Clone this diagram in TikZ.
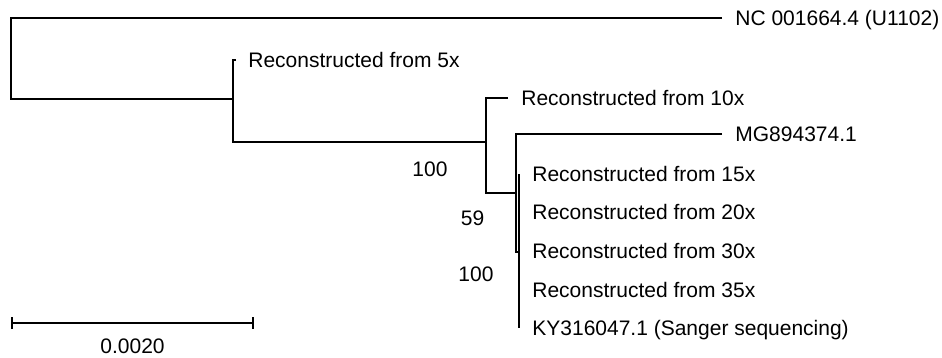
\documentclass[tikz,border=0pt]{standalone}
\usepackage{fontspec}
\setmainfont{Liberation Sans}
\usetikzlibrary{arrows.meta,positioning}
\tikzset{
  branch/.style={line width=1pt, line join=miter},
  lbl/.style   ={inner sep=0pt, text height=7.5pt, text depth=0pt,
                 font=\fontsize{10.5}{12.5}\selectfont},
  tip/.style   ={lbl, anchor=west},
  boot/.style  ={lbl, anchor=center},
  sbar/.style  ={line width=1pt, {Bar[width=6pt,line width=1pt]}-{Bar[width=6pt,line width=1pt]}},
}
\begin{document}
\begin{tikzpicture}[x=0.5pt, y=-0.5pt]
  \useasboundingbox (0,0) rectangle (942,358);

  % inner nodes of the tree
  \coordinate (r)  at (11,60);
  \coordinate (n1) at (233,99);
  \coordinate (n2) at (486,142);
  \coordinate (n3) at (516,193);
  \coordinate (n4) at (519,252);

  % leaves
  \coordinate (tNC)  at (722,18);
  \coordinate (t5)   at (236,60);
  \coordinate (t10)  at (508,98);
  \coordinate (tMG)  at (722,134);
  \coordinate (t15)  at (519,174);
  \coordinate (t20)  at (519,212);
  \coordinate (t30)  at (519,251);
  \coordinate (t35)  at (519,290);
  \coordinate (tKY)  at (519,328);

  \draw[branch] (tNC) -| (r) |- (n1);
  \draw[branch] (t5)  -| (n1) |- (n2);
  \draw[branch] (t10) -| (n2) |- (n3);
  \draw[branch] (tMG) -| (n3) |- (n4);
  \draw[branch] (t15) -- (tKY);

  \node[tip, right=6.5pt of tNC] (lNC) {NC 001664.4 (U1102)};
  \node[tip, right=6pt of t5]  (l5)  {Reconstructed from 5x};
  \node[tip, right=6.5pt of t10] (l10) {Reconstructed from 10x};
  \node[tip, right=6.5pt of tMG] (lMG) {MG894374.1};
  \node[tip, right=6.5pt of t15] (l15) {Reconstructed from 15x};
  \node[tip, right=6.5pt of t20] (l20) {Reconstructed from 20x};
  \node[tip, right=6.5pt of t30] (l30) {Reconstructed from 30x};
  \node[tip, right=6.5pt of t35] (l35) {Reconstructed from 35x};
  \node[tip, right=6.5pt of tKY] (lKY) {KY316047.1 (Sanger sequencing)};

  % bootstrap values
  \node[boot] (bs1) at (430,169) {100};
  \node[boot] (bs2) at (472.5,217.5) {59};
  \node[boot] (bs3) at (476,274) {100};

  % scale bar
  \coordinate (sbL) at (11,323);
  \coordinate (sbR) at (254,323);
  \draw[sbar] (sbL) -- (sbR);
  \node[boot] (sbT) at (132.5,346) {0.0020};
\end{tikzpicture}
\end{document}
